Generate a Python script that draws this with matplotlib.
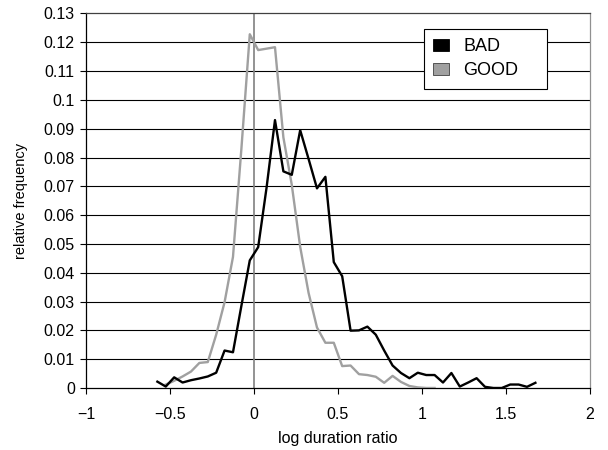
import matplotlib
matplotlib.use("Agg")
import matplotlib.pyplot as plt
from matplotlib.patches import Patch

plt.rcParams['font.family'] = ['Liberation Sans', 'DejaVu Sans']
plt.rcParams['axes.unicode_minus'] = True

# bin centres (log duration ratio) and relative frequencies
bad_x = [-0.575, -0.525, -0.475, -0.425, -0.375, -0.325, -0.275, -0.225, -0.175, -0.125,
         -0.075, -0.025, 0.025, 0.075, 0.125, 0.175, 0.225, 0.275, 0.325, 0.375,
         0.425, 0.475, 0.525, 0.575, 0.625, 0.675, 0.725, 0.775, 0.825, 0.875,
         0.925, 0.975, 1.025, 1.075, 1.125, 1.175, 1.225, 1.275, 1.325, 1.375,
         1.425, 1.475, 1.525, 1.575, 1.625, 1.675]
bad = [0.0022, 0.0005, 0.0037, 0.0019, 0.0027, 0.0033, 0.0040, 0.0053, 0.0130, 0.0124,
       0.0285, 0.0443, 0.0489, 0.0696, 0.0930, 0.0752, 0.0740, 0.0895, 0.0795, 0.0693,
       0.0733, 0.0437, 0.0388, 0.0199, 0.0200, 0.0213, 0.0185, 0.0130, 0.0078, 0.0052,
       0.0034, 0.0053, 0.0045, 0.0045, 0.0019, 0.0052, 0.0005, 0.0019, 0.0034, 0.0004,
       0.0, 0.0, 0.0012, 0.0012, 0.0004, 0.0018]

good_x = [-0.525, -0.475, -0.425, -0.375, -0.325, -0.275, -0.225, -0.175, -0.125, -0.075,
          -0.025, 0.025, 0.075, 0.125, 0.175, 0.225, 0.275, 0.325, 0.375, 0.425,
          0.475, 0.525, 0.575, 0.625, 0.675, 0.725, 0.775, 0.825, 0.875, 0.925,
          0.975, 1.025, 1.075]
good = [0.0012, 0.0025, 0.0040, 0.0057, 0.0087, 0.0090, 0.0185, 0.0298, 0.0455, 0.0830,
        0.1228, 0.1173, 0.1178, 0.1183, 0.0870, 0.0705, 0.0490, 0.0330, 0.0210, 0.0157,
        0.0157, 0.0076, 0.0078, 0.0048, 0.0045, 0.0039, 0.0018, 0.0042, 0.0021, 0.0007,
        0.0002, 0.0, 0.0]

xticks = [-1, -0.5, 0, 0.5, 1, 1.5, 2]
xticklabels = ['\u22121', '\u22120.5', '0', '0.5', '1', '1.5', '2']
yticks = [0, 0.01, 0.02, 0.03, 0.04, 0.05, 0.06, 0.07, 0.08, 0.09, 0.1, 0.11, 0.12, 0.13]
yticklabels = ['0', '0.01', '0.02', '0.03', '0.04', '0.05', '0.06', '0.07', '0.08',
               '0.09', '0.1', '0.11', '0.12', '0.13']

fig = plt.figure(figsize=(6.08, 4.5), dpi=100)
ax = fig.add_axes([0.1414, 0.1378, 0.8290, 0.8322])

ax.set_xlim(-1, 2)
ax.set_ylim(0, 0.13)

# horizontal gridlines and the vertical axis at x = 0
for y in yticks[1:-1]:
    ax.axhline(y, color='black', lw=0.8, zorder=1)
ax.axvline(0, color='#808080', lw=1.2, zorder=1)

ax.plot(good_x, good, color='#a0a0a0', lw=1.7, zorder=3)
ax.plot(bad_x, bad, color='black', lw=1.7, zorder=4)

ax.set_xticks(xticks)
ax.set_xticklabels(xticklabels)
ax.set_yticks(yticks)
ax.set_yticklabels(yticklabels)
ax.tick_params(direction='out', length=4, width=0.8, labelsize=11.5)
ax.tick_params(axis='x', pad=10)
ax.tick_params(axis='y', pad=4)

for side in ['left', 'bottom']:
    ax.spines[side].set_color('black')
    ax.spines[side].set_linewidth(0.9)
ax.spines['top'].set_color('#404040')
ax.spines['right'].set_color('#909090')
ax.spines['top'].set_linewidth(0.9)
ax.spines['right'].set_linewidth(0.9)

ax.set_xlabel('log duration ratio', fontsize=11.5, labelpad=6)
ax.set_ylabel('relative frequency', fontsize=10.5, labelpad=11)

handles = [Patch(facecolor='black', edgecolor='black', lw=0.6),
           Patch(facecolor='#a0a0a0', edgecolor='#404040', lw=0.6)]
leg = ax.legend(handles, ['BAD', 'GOOD'], loc='upper left',
                bbox_to_anchor=(0.67, 0.808, 0.245, 0.15), mode='expand',
                fontsize=13, frameon=True, fancybox=False, shadow=False,
                handlelength=0.9, handleheight=0.7, handletextpad=0.8,
                labelspacing=0.4, borderpad=0.5, borderaxespad=0)
leg.get_frame().set_edgecolor('black')
leg.get_frame().set_linewidth(0.8)
leg.get_frame().set_alpha(1)
leg.set_zorder(5)

fig.savefig('out.png', dpi=100)
